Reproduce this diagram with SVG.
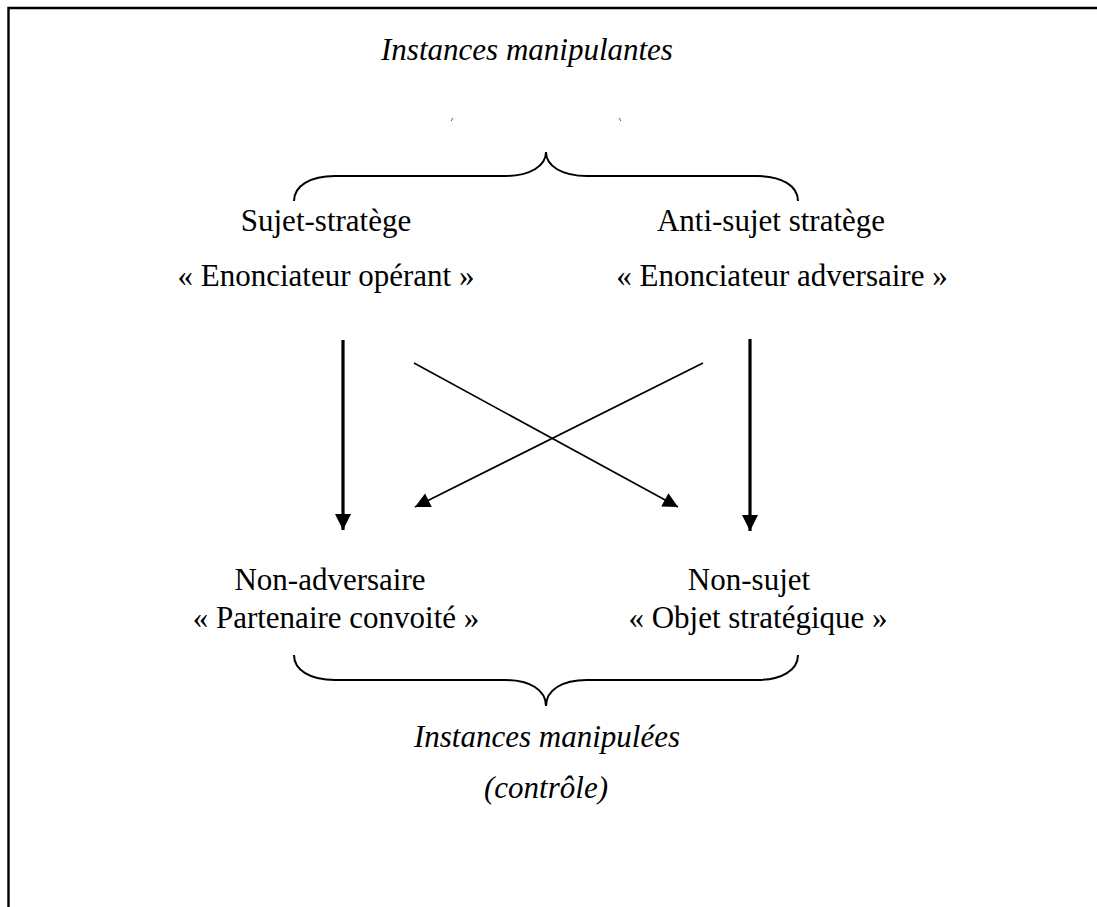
<svg xmlns="http://www.w3.org/2000/svg" width="1097" height="907" viewBox="0 0 1097 907">
<style>
.t{font-family:"Liberation Serif","Times New Roman",serif;font-size:31px;fill:#000;text-anchor:middle}
.i{font-style:italic}
.thin{stroke:#000;stroke-width:1.6;fill:none}
.thick{stroke:#000;stroke-width:3.2;fill:none}
.brace{stroke:#000;stroke-width:2;fill:none}
</style>
<defs>
<marker id="ah" viewBox="0 0 10 10" refX="10" refY="5" markerWidth="16" markerHeight="16" markerUnits="userSpaceOnUse" orient="auto">
<path d="M0,0 L10,5 L0,10 Z" fill="#000"/>
</marker>
<marker id="ah2" viewBox="0 0 10 10" refX="10" refY="5" markerWidth="18" markerHeight="15" markerUnits="userSpaceOnUse" orient="auto">
<path d="M0,0 L10,5 L0,10 Z" fill="#000"/>
</marker>
</defs>
<rect width="1097" height="907" fill="#fff"/>
<g id="frame">
<path d="M8.5,907 L8.5,8 L1097,8" stroke="#000" stroke-width="2.4" fill="none"/>
</g>
<g id="top-label">
<text class="t i" x="527" y="60">Instances manipulantes</text>
<path d="M451,121 L453,118 M619,118 L621,121" stroke="#555" stroke-width="1" fill="none"/>
</g>
<g id="top-brace">
<path class="brace" d="M294,201 C294,186 310,176 335,176 L505,176 C530,176 546,166 546,152 C546,166 562,176 587,176 L757,176 C782,176 798,186 798,201"/>
</g>
<g id="sujet">
<text class="t" x="326" y="231">Sujet-stratège</text>
<text class="t" x="326" y="286">« Enonciateur opérant »</text>
</g>
<g id="antisujet">
<text class="t" x="771" y="231">Anti-sujet stratège</text>
<text class="t" x="782" y="286">« Enonciateur adversaire »</text>
</g>
<g id="nonadversaire">
<text class="t" x="330" y="590">Non-adversaire</text>
<text class="t" x="336" y="628">« Partenaire convoité »</text>
</g>
<g id="nonsujet">
<text class="t" x="749" y="590">Non-sujet</text>
<text class="t" x="758" y="628">« Objet stratégique »</text>
</g>
<g id="bottom-brace">
<path class="brace" d="M294,655 C294,670 310,680 335,680 L505,680 C530,680 546,690 546,706 C546,690 562,680 587,680 L757,680 C782,680 798,670 798,655"/>
</g>
<g id="bottom-label">
<text class="t i" x="547" y="747">Instances manipulées</text>
<text class="t i" x="546" y="798">(contrôle)</text>
</g>
<g id="connectors">
<line class="thick" x1="343" y1="340" x2="343" y2="530" marker-end="url(#ah)"/>
<line class="thick" x1="750" y1="339" x2="750" y2="531" marker-end="url(#ah)"/>
<line class="thin" x1="414" y1="363" x2="678" y2="507" marker-end="url(#ah2)"/>
<line class="thin" x1="703" y1="363" x2="415" y2="507" marker-end="url(#ah2)"/>
</g>
</svg>
